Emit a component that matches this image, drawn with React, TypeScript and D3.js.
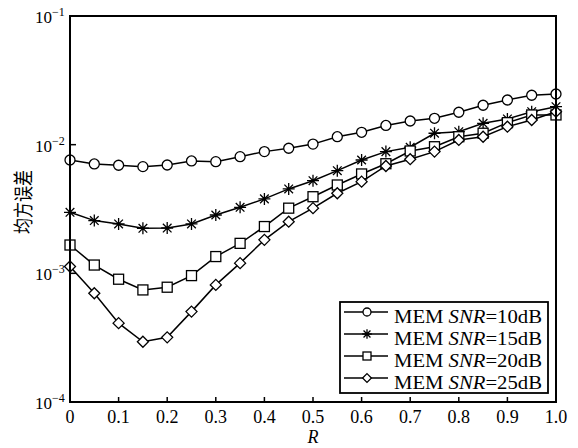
import React from 'react';
import * as d3 from 'd3';

// R values (0 .. 1 step 0.05)
const rValues = [0, 0.05, 0.1, 0.15, 0.2, 0.25, 0.3, 0.35, 0.4, 0.45, 0.5, 0.55, 0.6, 0.65, 0.7, 0.75, 0.8, 0.85, 0.9, 0.95, 1.0];

// MSE
const snr10 = [0.0076, 0.00708, 0.00692, 0.00675, 0.00695, 0.00747, 0.00738, 0.00807, 0.00883, 0.00938, 0.0101, 0.01153, 0.01248, 0.0141, 0.01528, 0.01603, 0.01786, 0.02024, 0.02225, 0.02421, 0.02477];
const snr15 = [0.00298, 0.00257, 0.00242, 0.00224, 0.00225, 0.00242, 0.00284, 0.00326, 0.00379, 0.00453, 0.00525, 0.00628, 0.0076, 0.00883, 0.00955, 0.01227, 0.01262, 0.01466, 0.01585, 0.01804, 0.01974];
const snr20 = [0.00166, 0.00116, 0.0009, 0.000743, 0.00078, 0.00096, 0.00135, 0.00171, 0.00231, 0.00321, 0.00394, 0.00486, 0.00592, 0.00711, 0.00893, 0.00964, 0.01153, 0.01227, 0.01483, 0.01702, 0.01702];
const snr25 = [0.00113, 0.0007, 0.00041, 0.000294, 0.000318, 0.000504, 0.000813, 0.0012, 0.00182, 0.00252, 0.00321, 0.00419, 0.00516, 0.00683, 0.00771, 0.00883, 0.01088, 0.01153, 0.0138, 0.01556, 0.01804];

const seriesNames = ['10dB', '15dB', '20dB', '25dB'];
const seriesMarkers = ['circle', 'star', 'square', 'diamond'];
const seriesValues = [snr10, snr15, snr20, snr25];

const xTicks = [0, 0.1, 0.2, 0.3, 0.4, 0.5, 0.6, 0.7, 0.8, 0.9, 1.0];
const yTickExps = [-1, -2, -3, -4];

const serif = '"Liberation Serif", "Times New Roman", serif';

const Marker = ({ kind, x, y, s = 1 }: { kind: string; x: number; y: number; s?: number }) => {
  const st = { fill: 'none', stroke: '#000', strokeWidth: 1.3 };
  if (kind === 'circle') return <circle cx={x} cy={y} r={5 * s} {...st} fill="#fff" />;
  if (kind === 'square') return <rect x={x - 5 * s} y={y - 5 * s} width={10 * s} height={10 * s} {...st} fill="#fff" />;
  if (kind === 'diamond') {
    const r = 5.5 * s;
    return <path d={`M${x},${y - r}L${x + r},${y}L${x},${y + r}L${x - r},${y}Z`} {...st} fill="#fff" />;
  }
  const r = 6 * s;
  const d = r * 0.72;
  return (
    <path
      d={`M${x - r},${y}H${x + r}M${x},${y - r}V${y + r}M${x - d},${y - d}L${x + d},${y + d}M${x - d},${y + d}L${x + d},${y - d}`}
      {...st}
    />
  );
};

export default function App() {
  const margin = { top: 16, right: 22, bottom: 46, left: 70 };
  const width = 578;
  const height = 448;

  const x = d3.scaleLinear().domain([0, 1]).range([margin.left, width - margin.right]);
  const y = d3.scaleLog().domain([1e-4, 1e-1]).range([height - margin.bottom, margin.top]);

  const line = d3.line<number>()
    .x((_, i) => x(rValues[i]))
    .y(d => y(d));

  const x0 = x(0), x1 = x(1), y0 = y(1e-4), y1 = y(1e-1);

  // legend box
  const lg = { x: 340, y: 302, w: 208, h: 91 };

  return (
    <svg width={width} height={height} style={{ position: 'absolute', left: 0, top: 0, background: '#fff' }}>
      {/* series */}
      {seriesValues.map((vals, k) => (
        <g key={k}>
          <path d={line(vals) || ''} fill="none" stroke="#000" strokeWidth={1.5} />
          {vals.map((v, i) => (
            <Marker key={i} kind={seriesMarkers[k]} x={x(rValues[i])} y={y(v)} />
          ))}
        </g>
      ))}

      {/* frame */}
      <rect x={x0} y={y1} width={x1 - x0} height={y0 - y1} fill="none" stroke="#000" strokeWidth={2} />

      {/* x ticks */}
      {xTicks.map(t => (
        <g key={t}>
          <line x1={x(t)} x2={x(t)} y1={y0} y2={y0 - 5} stroke="#000" strokeWidth={1.5} />
          <text x={x(t)} y={y0 + 21} textAnchor="middle" fontFamily={serif} fontSize={18}>
            {t === 0 ? '0' : d3.format('.1f')(t)}
          </text>
        </g>
      ))}
      <text x={(x0 + x1) / 2} y={443} textAnchor="middle" fontFamily={serif} fontStyle="italic" fontSize={18}>R</text>

      {/* y ticks */}
      {yTickExps.map(e => {
        const ty = y(Math.pow(10, e));
        return (
          <g key={e}>
            <line x1={x0} x2={x0 + 6} y1={ty} y2={ty} stroke="#000" strokeWidth={1.5} />
            <text x={35} y={ty + 7} fontFamily={serif} fontSize={17}>
              10
              <tspan dy={-7} fontSize={12}>{'\u2212' + Math.abs(e)}</tspan>
            </text>
          </g>
        );
      })}
      <text
        transform={`translate(31,202) scale(1.25,1) rotate(-90)`}
        textAnchor="middle"
        fontFamily={'"Noto Sans CJK SC", sans-serif'}
        fontSize={16}
      >
        均方误差
      </text>

      {/* legend */}
      <rect x={lg.x} y={lg.y} width={lg.w} height={lg.h} fill="#fff" stroke="#000" strokeWidth={1.8} />
      {seriesNames.map((name, k) => {
        const ry = 312 + k * 22;
        return (
          <g key={name}>
            <line x1={lg.x + 4} x2={lg.x + 48} y1={ry} y2={ry} stroke="#000" strokeWidth={1.5} />
            <Marker kind={seriesMarkers[k]} x={lg.x + 27} y={ry} s={0.8} />
            <text x={394} y={ry + 11} fontFamily={serif} fontSize={18} textLength={148} lengthAdjust="spacingAndGlyphs">
              MEM <tspan fontStyle="italic">SNR</tspan>={name}
            </text>
          </g>
        );
      })}
    </svg>
  );
}
